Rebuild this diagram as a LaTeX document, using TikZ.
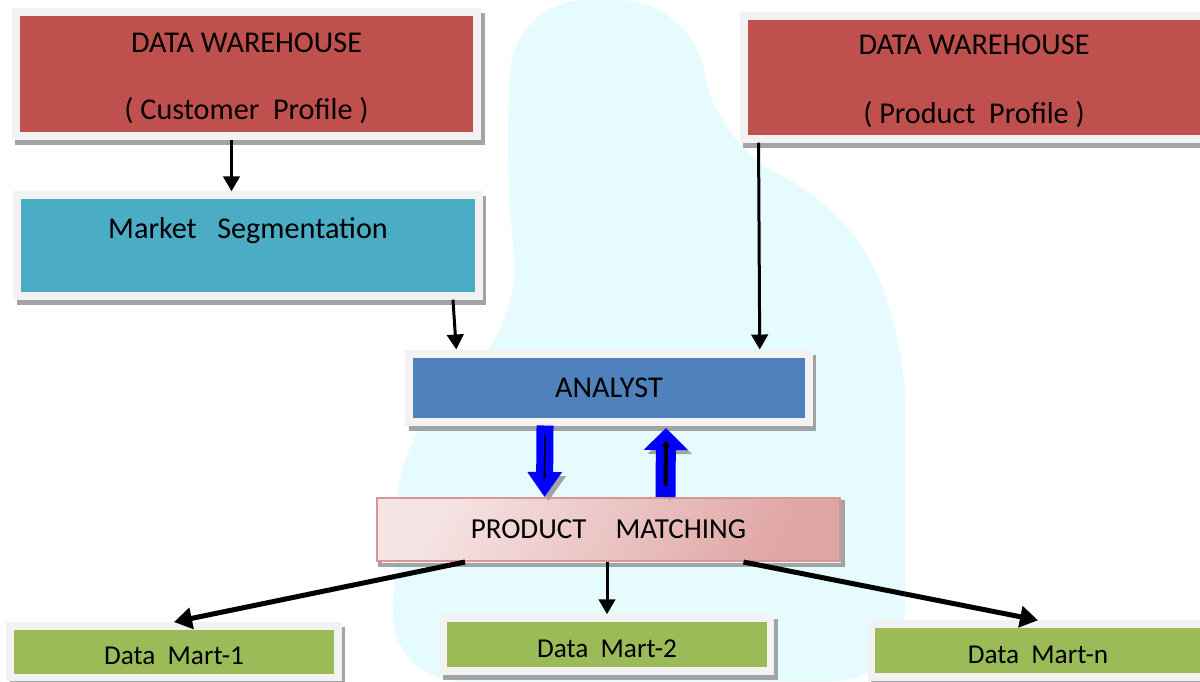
\documentclass[tikz,border=0pt]{standalone}
\usepackage{fontspec}
\setmainfont{Carlito}
\usetikzlibrary{arrows.meta}
\definecolor{whred}{HTML}{C0504D}
\definecolor{segteal}{HTML}{4BACC6}
\definecolor{anblue}{HTML}{4F81BD}
\definecolor{martgreen}{HTML}{9BBB59}
\definecolor{boxframe}{HTML}{F2F2F2}
\definecolor{boxshadow}{HTML}{A0A4A4}
\definecolor{pmlight}{HTML}{F6E4E4}
\definecolor{pmdark}{HTML}{D99694}
\definecolor{wmcyan}{HTML}{C8F6FA}
\begin{document}
\begin{tikzpicture}[x=0.02cm,y=-0.02cm,
    box/.style={fill=#1,draw=boxframe,line width=0.16cm,align=center,inner sep=0pt,
        font=\fontsize{17.2}{20.6}\selectfont,
        preaction={draw=boxshadow,line width=0.16cm,transform canvas={xshift=0.07cm,yshift=-0.1cm}}},
    mart/.style={box=martgreen,line width=0.15cm,font=\fontsize{15.5}{18}\selectfont,text height=0.62cm,text depth=0.1cm},
    arr/.style={line width=0.06cm,-{Triangle[width=0.33cm,length=0.3cm]}},
    thickarr/.style={line width=0.1cm,-{Triangle[width=0.42cm,length=0.36cm]}},
    fat/.style={draw=blue,line width=#1,preaction={draw=boxshadow,transform canvas={xshift=0.08cm,yshift=-0.08cm}}}]
\clip (0,0) rectangle (1200,681);
% faded background
\fill[wmcyan,opacity=0.45,rounded corners=40] (515,0) -- (690,0) -- (720,150) -- (840,200) -- (905,330)
    -- (905,681) -- (390,681) -- (400,430) -- (520,330) -- (505,150) -- cycle;
% boxes
\node[box=whred,minimum width=9.23cm,minimum height=2.47cm] (cust) at (246.5,74) {\rule{0pt}{0.56cm}DATA WAREHOUSE\\[17.8pt]( Customer\ \ Profile )};
\node[box=whred,minimum width=9.22cm,minimum height=2.45cm] (prod) at (974,77.5) {\rule{0pt}{0.56cm}DATA WAREHOUSE\\[18.6pt]( Product\ \ Profile )};
\node[box=segteal,minimum width=9.24cm,minimum height=2.01cm,text height=0.45cm,text depth=0.75cm] (seg) at (248,245.5) {Market\ \ \ Segmentation};
\node[box=anblue,minimum width=7.99cm,minimum height=1.36cm] (an) at (609,387.5) {ANALYST};
\node[draw=pmdark,line width=0.04cm,left color=pmlight,right color=pmdark!80!pmlight,shading angle=60,
    minimum width=9.26cm,minimum height=1.26cm,font=\fontsize{16.5}{20}\selectfont,
    preaction={draw=boxshadow,line width=0.08cm,transform canvas={xshift=0.06cm,yshift=-0.08cm}}]
    (pm) at (608.5,529.5) {PRODUCT\hspace{1em}MATCHING};
\node[mart,minimum width=6.56cm,minimum height=1.03cm] (dm1) at (174,651.5) {Data\ \ Mart-1};
\node[mart,minimum width=6.55cm,minimum height=1.06cm] (dm2) at (607,644.5) {Data\ \ Mart-2};
\node[mart,minimum width=6.66cm,minimum height=1.06cm] (dmn) at (1038,650.5) {Data\ \ Mart-n};
% connectors
\draw[arr] ([xshift=-0.3cm]cust.south) -- ([xshift=-0.3cm]cust.south |- seg.north);
\draw[arr] ([xshift=-0.6cm]seg.south east) -- ([xshift=1.02cm]an.north west);
\draw[arr] ([xshift=0.38cm]prod.south west) -- ([xshift=-1.06cm]an.north east);
% analyst <-> matching
\draw[fat=0.34cm,-{Triangle[width=0.66cm,length=0.5cm]}] ([xshift=-1.28cm]an.south) -- ([xshift=-1.28cm]pm.north);
\draw[line width=0.03cm,-{Stealth[length=0.12cm]}] ([xshift=-1.28cm,yshift=-0.2cm]an.south) -- ([xshift=-1.28cm,yshift=0.36cm]pm.north);
\draw[fat=0.4cm,-{Triangle[width=0.86cm,length=0.44cm]}] ([xshift=1.14cm]pm.north) -- ([xshift=1.14cm,yshift=-0.05cm]an.south);
\draw[line width=0.08cm,-{Triangle[width=0.16cm,length=0.12cm]}] ([xshift=1.14cm,yshift=0.22cm]pm.north) -- ([xshift=1.14cm,yshift=-0.3cm]an.south);
% matching -> data marts
\draw[thickarr] ([xshift=-2.87cm]pm.south) -- (dm1.north);
\draw[arr] (dm2.north |- pm.south) -- (dm2.north);
\draw[thickarr] ([xshift=2.7cm]pm.south) -- (dmn.north);
\end{tikzpicture}
\end{document}
